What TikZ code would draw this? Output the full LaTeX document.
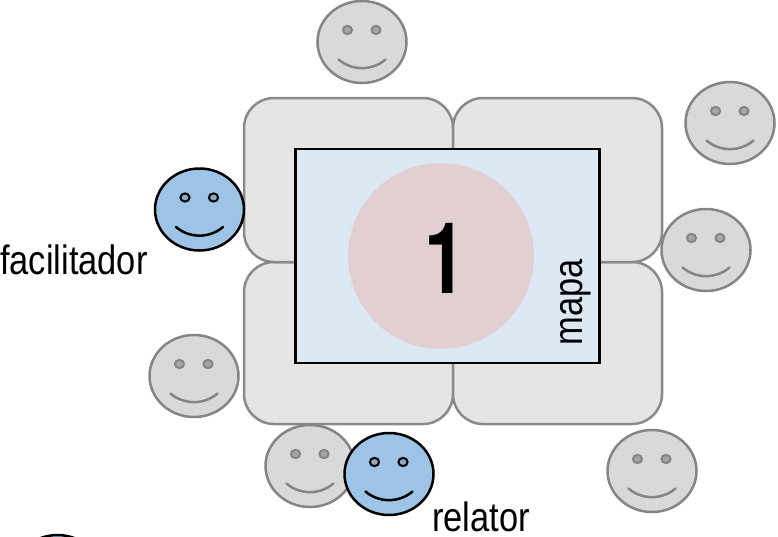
\documentclass[tikz,border=0pt]{standalone}
\usepackage{fontspec}
\setmainfont{Liberation Sans}
\newfontfamily\narrowfont[FakeStretch=0.84]{Liberation Sans}
\newfontfamily\numfont[FakeStretch=0.76]{TeX Gyre Heros}
\usetikzlibrary{shapes.geometric}
\definecolor{tablefill}{HTML}{E5E5E5}
\definecolor{tableline}{HTML}{8A8A8A}
\definecolor{mapfill}{HTML}{DDE8F5}
\definecolor{circfill}{HTML}{E1CFD1}
\definecolor{grayface}{HTML}{D9D9D9}
\definecolor{grayline}{HTML}{858585}
\definecolor{grayeye}{HTML}{A5A5A5}
\definecolor{blueface}{HTML}{9DC3E6}
\definecolor{blueeye}{HTML}{8FA9BF}
\tikzset{
  x=1pt,y=-1pt,
  tablebox/.style={draw=tableline,fill=tablefill,line width=2.5pt,rounded corners=30pt},
  facebody/.style={ellipse,inner sep=0pt,outer sep=0pt,minimum width=89pt,minimum height=82pt,line width=2.5pt},
  label/.style={font=\narrowfont\fontsize{41}{41}\selectfont,text=black,inner sep=0pt},
  grayfacestyle/.style={draw=grayline,fill=grayface},
  bluefacestyle/.style={draw=black,fill=blueface},
}
% #1 name, #2 x, #3 y, #4 body style, #5 line colour, #6 eye fill
\newcommand{\smiley}[6]{%
  \node[facebody,#4] (#1) at (#2,#3) {};
  \begin{scope}[shift={(#2,#3)}]
    \draw[#5,fill=#6,line width=2pt] (-14.5,-12) ellipse [x radius=4.6,y radius=4.1];
    \draw[#5,fill=#6,line width=2pt] (14,-12) ellipse [x radius=4.6,y radius=4.1];
    \draw[#5,line width=2.5pt,line cap=round] (-23.5,17.5) .. controls (-10,29) and (10,29) .. (23.5,17.5);
  \end{scope}}
\newcommand{\grayface}[3]{\smiley{#1}{#2}{#3}{grayfacestyle}{grayline}{grayeye}}
\newcommand{\blueface}[3]{\smiley{#1}{#2}{#3}{bluefacestyle}{black}{blueeye}}
\begin{document}
\begin{tikzpicture}
\useasboundingbox (0,0) rectangle (778,536);
\clip (0,0) rectangle (778,536);
\draw[tablebox] (244,262) rectangle (453,424);
\draw[tablebox] (453,262) rectangle (662,424);
\draw[tablebox] (244,98) rectangle (453,262);
\draw[tablebox] (453,98) rectangle (662,262);
\node[draw=black,fill=mapfill,line width=2.5pt,inner sep=0pt,outer sep=0pt,minimum width=304pt,minimum height=214pt] (map) at (447.3,256) {};
\node[circle,fill=circfill,inner sep=0pt,minimum size=186pt] (disc) at (441,256) {};
\node[font=\numfont\bfseries\fontsize{99}{99}\selectfont,inner sep=0pt,anchor=base] (num) at (445,293) {1};
\node[label,rotate=90,anchor=base] (mapalabel) at (582,302) {mapa};
\grayface{g1}{362}{42}
\grayface{g2}{730}{123}
\grayface{g3}{706}{250}
\grayface{g4}{194}{376}
\grayface{g5}{310}{466}
\grayface{g6}{652}{471}
\blueface{b1}{199.5}{209.5}
\blueface{b2}{389}{474}
\blueface{b3}{57.5}{576}
\node[label,anchor=base west] (fac) at (0,274.5) {facilitador};
\node[label,anchor=base west] (rel) at (432,531.5) {relator};
\end{tikzpicture}
\end{document}
